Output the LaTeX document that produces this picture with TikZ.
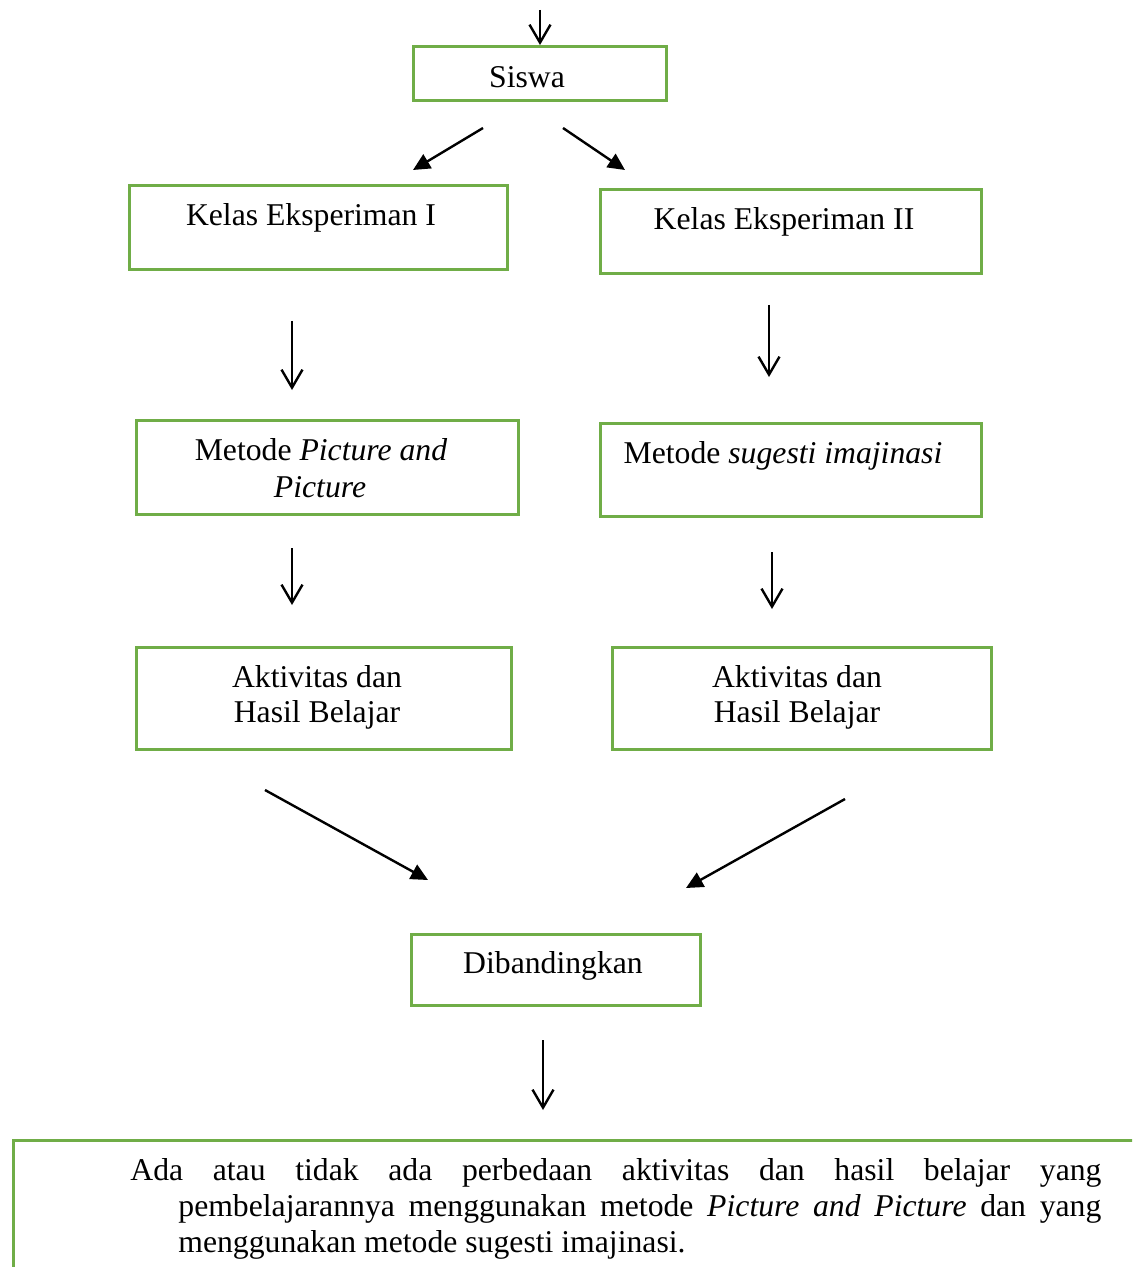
\documentclass[tikz,border=0pt]{standalone}
\usepackage{fontspec}
\setmainfont{Liberation Serif}
\usetikzlibrary{arrows.meta}
\definecolor{boxgreen}{HTML}{70AD47}
\tikzset{
  gbox/.style={draw=boxgreen, line width=1.5pt, rectangle, inner sep=0pt, fill=none},
  txt/.style={inner sep=0pt, anchor=base, font=\fontsize{15.85pt}{19pt}\selectfont},
  openarr/.style={-{Straight Barb[length=9pt,width=10.5pt]}, line width=1.2pt},
  fillarr/.style={-{Triangle[length=8.5pt,width=8pt]}, line width=1.2pt},
}
\begin{document}
\begin{tikzpicture}[x=0.5pt,y=-0.5pt]
\clip (0,0) rectangle (1132,1267);
\useasboundingbox (0,0) rectangle (1132,1267);
\fill[white] (0,0) rectangle (1132,1267);

% boxes
\node[gbox, minimum width=126.5pt, minimum height=27pt] (siswa) at (539.5,74) {};
\node[gbox, minimum width=189pt, minimum height=42pt] (k1) at (318,228) {};
\node[gbox, minimum width=190.5pt, minimum height=42pt] (k2) at (790.5,232) {};
\node[gbox, minimum width=191pt, minimum height=47pt] (m1) at (327,467) {};
\node[gbox, minimum width=190.5pt, minimum height=46.5pt] (m2) at (790.5,469.5) {};
\node[gbox, minimum width=187.5pt, minimum height=51pt] (a1) at (323.5,698) {};
\node[gbox, minimum width=189.5pt, minimum height=51pt] (a2) at (801.5,698) {};
\node[gbox, minimum width=144.5pt, minimum height=35.5pt] (dib) at (555.5,969.5) {};
\node[gbox, minimum width=568.5pt, minimum height=75pt] (res) at (581.5,1215) {};

% texts
\node[txt] (siswaT) at (527,88) {Siswa};
\node[txt] (k1T) at (311,226) {Kelas Eksperiman I};
\node[txt] (k2T) at (784,230) {Kelas Eksperiman II};
\node[txt] (m1Ta) at (321,460) {Metode \textit{Picture and}};
\node[txt] (m1Tb) at (320,497) {\textit{Picture}};
\node[txt] (m2T) at (783,463) {Metode \textit{sugesti imajinasi}};
\node[txt] (a1Ta) at (317,687) {Aktivitas dan};
\node[txt] (a1Tb) at (317,722) {Hasil Belajar};
\node[txt] (a2Ta) at (797,687) {Aktivitas dan};
\node[txt] (a2Tb) at (797,722) {Hasil Belajar};
\node[txt] (dibT) at (553,973) {Dibandingkan};
\node[txt, anchor=base west] (r1) at (130,1180) {\makebox[485.5pt][s]{Ada atau tidak ada perbedaan aktivitas dan hasil belajar yang}};
\node[txt, anchor=base west] (r2) at (178,1216) {\makebox[461.5pt][s]{pembelajarannya menggunakan metode \textit{Picture and Picture} dan yang}};
\node[txt, anchor=base west] (r3) at (178,1252) {menggunakan metode sugesti imajinasi.};

% arrow end coordinates
\coordinate (t0) at (540,10);   \coordinate (t1) at (540,45);
\coordinate (s1a) at (483,128); \coordinate (s1b) at (413,170);
\coordinate (s2a) at (563,128); \coordinate (s2b) at (625,170);
\coordinate (v1a) at (292,321); \coordinate (v1b) at (292,390);
\coordinate (v2a) at (769,305); \coordinate (v2b) at (769,377);
\coordinate (v3a) at (292,548); \coordinate (v3b) at (292,605);
\coordinate (v4a) at (772,552); \coordinate (v4b) at (772,609);
\coordinate (d1a) at (265,790); \coordinate (d1b) at (428,880);
\coordinate (d2a) at (845,799); \coordinate (d2b) at (686,888);
\coordinate (v5a) at (543,1040); \coordinate (v5b) at (543,1110);

\draw[openarr] (t0) -- (t1);
\draw[fillarr] (s1a) -- (s1b);
\draw[fillarr] (s2a) -- (s2b);
\draw[openarr] (v1a) -- (v1b);
\draw[openarr] (v2a) -- (v2b);
\draw[openarr] (v3a) -- (v3b);
\draw[openarr] (v4a) -- (v4b);
\draw[fillarr] (d1a) -- (d1b);
\draw[fillarr] (d2a) -- (d2b);
\draw[openarr] (v5a) -- (v5b);
\end{tikzpicture}
\end{document}
